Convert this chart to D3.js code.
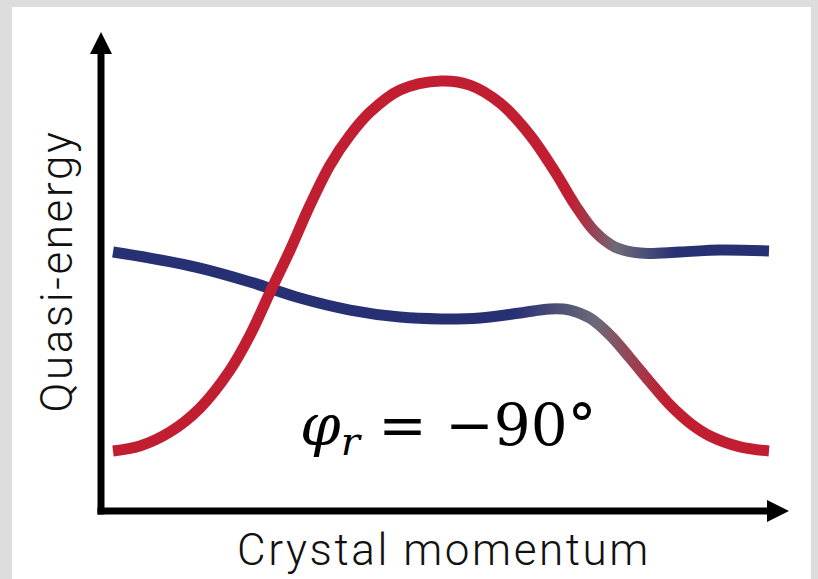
<!DOCTYPE html>
<meta charset="utf-8">
<style>

body {
  margin: 0;
  background: #dddddd;
}

svg {
  display: block;
}

.axis-label {
  font: 300 44px "Roboto", sans-serif;
  letter-spacing: 2.6px;
  fill: #111;
}

.band {
  fill: none;
  stroke-width: 11px;
}

.phase {
  font-family: "DejaVu Serif", serif;
  font-size: 58px;
  fill: #000;
}

</style>
<svg width="818" height="579"></svg>
<script src="https://cdn.jsdelivr.net/npm/d3@7/dist/d3.min.js"></script>
<script>

// band that starts at the bottom (red) and ends flat on the right (blue)
var momentumUpper = [-1, -0.918, -0.826, -0.735, -0.643, -0.582, -0.521, -0.46, -0.399, -0.338, -0.277, -0.216, -0.125, 0, 0.088, 0.18, 0.271, 0.348, 0.409, 0.47, 0.53, 0.607, 0.729, 0.851, 1];
var energyUpper   = [-1, -0.973, -0.897, -0.768, -0.562, -0.373, -0.141, 0.086, 0.33, 0.546, 0.708, 0.832, 0.951, 1, 0.978, 0.881, 0.708, 0.508, 0.33, 0.184, 0.103, 0.07, 0.076, 0.086, 0.081];

// band that starts flat (blue) and ends at the bottom (red)
var momentumLower = [-1, -0.887, -0.735, -0.582, -0.43, -0.277, -0.125, 0, 0.119, 0.241, 0.332, 0.393, 0.454, 0.515, 0.576, 0.637, 0.698, 0.759, 0.82, 0.912, 1];
var energyLower   = [0.076, 0.043, -0.011, -0.086, -0.173, -0.238, -0.276, -0.286, -0.281, -0.254, -0.232, -0.238, -0.281, -0.373, -0.497, -0.627, -0.751, -0.849, -0.919, -0.978, -1];

// where the colour mixes (crystal momentum): red/blue -> grey -> blue/red
var mixUpper = [0.393, 0.537, 0.716];
var mixLower = [0.22, 0.476, 0.683];

var red = "#c11e31", blue = "#283074", grey = "#6d6a78";

var svg = d3.select("svg");

// white panel
svg.append("rect")
    .attr("x", 12)
    .attr("y", 7)
    .attr("width", 799)
    .attr("height", 590)
    .attr("fill", "#fff");

var x = d3.scaleLinear().domain([-1, 1]).range([113, 769]),
    y = d3.scaleLinear().domain([-1, 1]).range([451, 81]);

var line = d3.line()
    .curve(d3.curveCatmullRom.alpha(0.5))
    .x(function(d) { return x(d[0]); })
    .y(function(d) { return y(d[1]); });

var defs = svg.append("defs");

function gradient(id, mix, from, to) {
  defs.append("linearGradient")
      .attr("id", id)
      .attr("gradientUnits", "userSpaceOnUse")
      .attr("x1", x(-1)).attr("y1", 0)
      .attr("x2", x(1)).attr("y2", 0)
    .selectAll("stop")
      .data([
        {k: -1, c: from},
        {k: mix[0], c: from},
        {k: mix[1], c: grey},
        {k: mix[2], c: to},
        {k: 1, c: to}
      ])
    .enter().append("stop")
      .attr("offset", function(d) { return (x(d.k) - x(-1)) / (x(1) - x(-1)); })
      .attr("stop-color", function(d) { return d.c; });
}

gradient("grad-upper", mixUpper, red, blue);
gradient("grad-lower", mixLower, blue, red);

svg.append("path")
    .attr("class", "band")
    .attr("stroke", "url(#grad-lower)")
    .attr("d", line(d3.zip(momentumLower, energyLower)));

svg.append("path")
    .attr("class", "band")
    .attr("stroke", "url(#grad-upper)")
    .attr("d", line(d3.zip(momentumUpper, energyUpper)));

// axes with arrow heads, no ticks
var ox = 101, oy = 511, aw = 7;

svg.append("rect")
    .attr("x", ox - aw / 2).attr("y", 50)
    .attr("width", aw).attr("height", oy + aw / 2 - 50)
    .attr("fill", "#000");

svg.append("rect")
    .attr("x", ox - aw / 2).attr("y", oy - aw / 2)
    .attr("width", 770 - (ox - aw / 2)).attr("height", aw)
    .attr("fill", "#000");

svg.append("path")
    .attr("d", "M" + ox + ",32L" + (ox + 11) + ",54L" + (ox - 11) + ",54Z")
    .attr("fill", "#000");

svg.append("path")
    .attr("d", "M789," + oy + "L767," + (oy - 11) + "L767," + (oy + 11) + "Z")
    .attr("fill", "#000");

svg.append("text")
    .attr("class", "axis-label")
    .attr("x", 444)
    .attr("y", 565)
    .attr("text-anchor", "middle")
    .text("Crystal momentum");

svg.append("text")
    .attr("class", "axis-label")
    .attr("transform", "translate(72,271) rotate(-90)")
    .attr("text-anchor", "middle")
    .text("Quasi-energy");

var phase = svg.append("text")
    .attr("class", "phase")
    .attr("x", 300)
    .attr("y", 445);

phase.append("tspan").attr("font-style", "italic").text("\u03c6");
phase.append("tspan").attr("font-style", "italic").attr("font-size", "40px").attr("dy", 10).text("r");
phase.append("tspan").attr("dy", -10).text(" = \u221290\u00b0");

</script>
